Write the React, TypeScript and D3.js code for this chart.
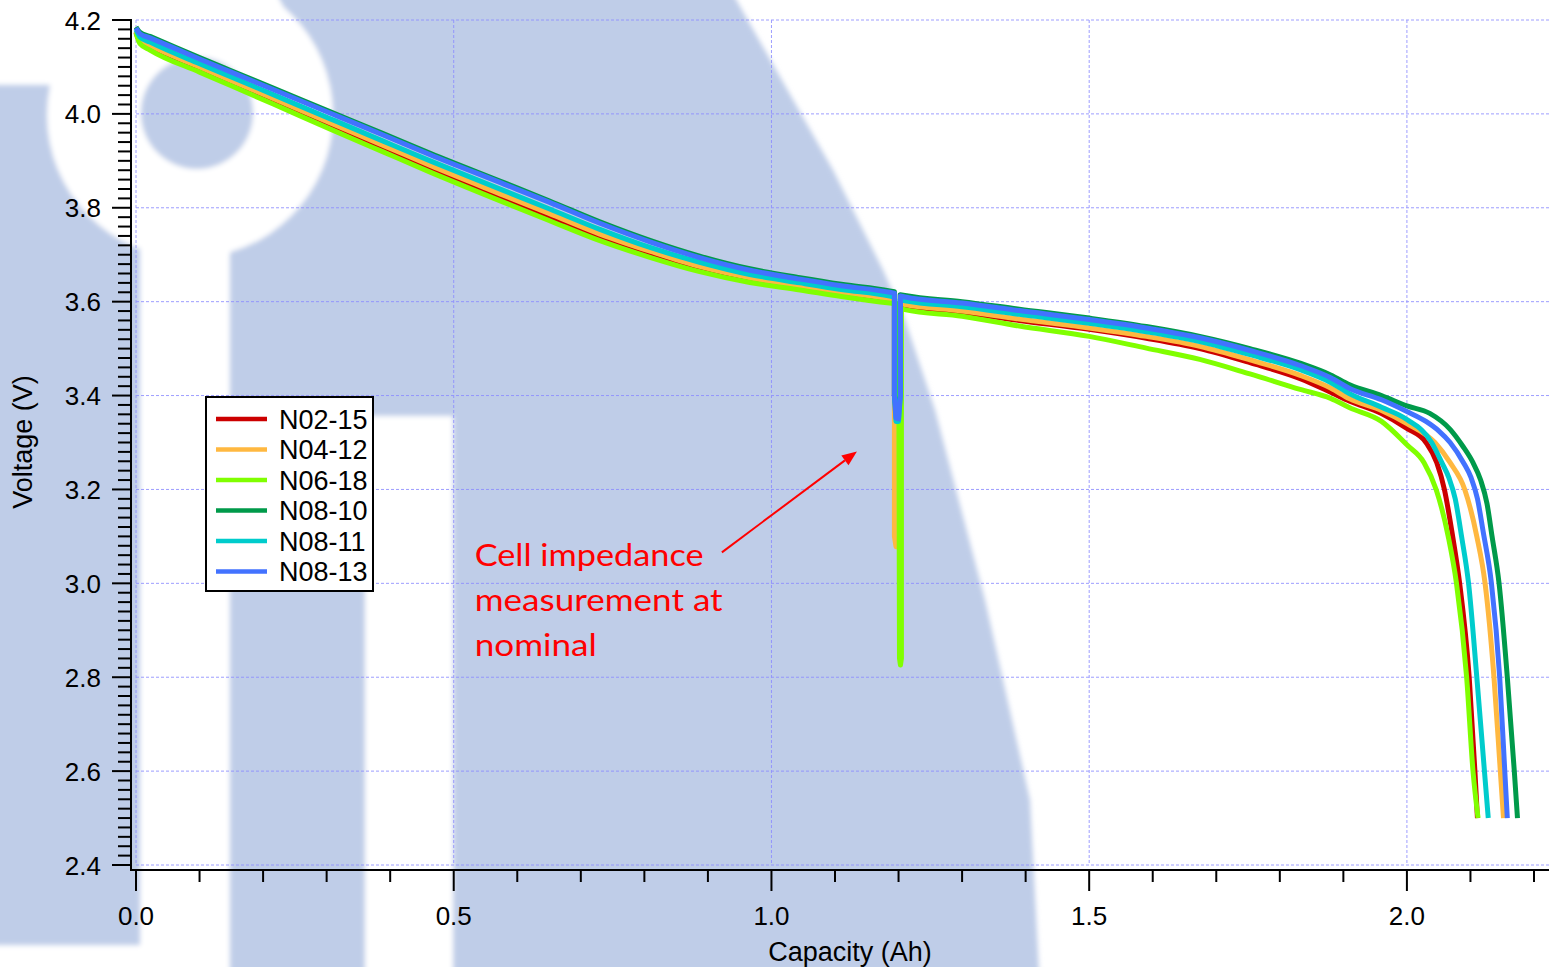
import React from "react";
import * as d3 from "d3";

const W = 1549;
const H = 967;

// series, in legend / drawing order
const seriesNames = ["N02-15", "N04-12", "N06-18", "N08-10", "N08-11", "N08-13"];
const seriesColors = ["#CC0000", "#FFB840", "#80FF00", "#009A4A", "#00CCCC", "#4272FF"];

// capacity (Ah), voltage (V)
const n0215 = [
  [0, 4.174], [0.006, 4.154], [0.022, 4.142], [0.1, 4.095], [0.148, 4.067], [0.216, 4.028],
  [0.305, 3.975], [0.389, 3.927], [0.463, 3.884], [0.58, 3.82], [0.65, 3.782], [0.73, 3.738],
  [0.81, 3.701], [0.887, 3.671], [0.966, 3.647], [1.045, 3.63], [1.11, 3.616], [1.186, 3.602],
  [1.1935, 3.6], [1.1935, 3.4], [1.196, 3.37], [1.2, 3.37], [1.2025, 3.4], [1.2025, 3.593],
  [1.21, 3.591], [1.3, 3.577], [1.39, 3.56], [1.5, 3.541], [1.59, 3.522], [1.674, 3.5],
  [1.753, 3.47], [1.832, 3.436], [1.88, 3.407], [1.91, 3.388], [1.96, 3.362], [2.0, 3.33],
  [2.03, 3.3], [2.047, 3.257], [2.059, 3.2], [2.072, 3.1], [2.083, 3.0], [2.098, 2.8],
  [2.107, 2.6], [2.111, 2.5],
];

const n0412 = [
  [0, 4.176], [0.006, 4.158], [0.022, 4.146], [0.1, 4.1], [0.148, 4.072], [0.216, 4.033],
  [0.305, 3.981], [0.389, 3.933], [0.463, 3.89], [0.58, 3.826], [0.65, 3.788], [0.73, 3.744],
  [0.81, 3.707], [0.887, 3.675], [0.966, 3.651], [1.045, 3.634], [1.11, 3.62], [1.186, 3.606],
  [1.1935, 3.604], [1.1935, 3.1], [1.196, 3.078], [1.2, 3.085], [1.2025, 3.1], [1.2025, 3.596],
  [1.21, 3.594], [1.3, 3.58], [1.39, 3.563], [1.5, 3.544], [1.59, 3.526], [1.674, 3.505],
  [1.753, 3.476], [1.832, 3.443], [1.88, 3.416], [1.91, 3.393], [1.96, 3.368], [2.0, 3.34],
  [2.044, 3.3], [2.068, 3.257], [2.091, 3.2], [2.11, 3.1], [2.123, 3.0], [2.137, 2.8],
  [2.147, 2.6], [2.152, 2.5],
];

const n0618 = [
  [0, 4.172], [0.006, 4.15], [0.022, 4.136], [0.1, 4.089], [0.148, 4.061], [0.216, 4.021],
  [0.305, 3.968], [0.389, 3.919], [0.463, 3.876], [0.58, 3.811], [0.65, 3.773], [0.73, 3.73],
  [0.81, 3.694], [0.887, 3.664], [0.966, 3.641], [1.045, 3.625], [1.11, 3.611], [1.186, 3.597],
  [1.1995, 3.595], [1.2005, 3.4], [1.2015, 2.84], [1.203, 2.826], [1.2045, 2.84], [1.2045, 3.585],
  [1.21, 3.583], [1.3, 3.569], [1.39, 3.548], [1.5, 3.526], [1.59, 3.501], [1.674, 3.477],
  [1.753, 3.446], [1.832, 3.413], [1.88, 3.394], [1.91, 3.374], [1.96, 3.345], [2.0, 3.295],
  [2.027, 3.257], [2.046, 3.2], [2.065, 3.1], [2.078, 3.0], [2.094, 2.8], [2.104, 2.6],
  [2.112, 2.5],
];

const n0810 = [
  [0, 4.185], [0.006, 4.174], [0.022, 4.165], [0.1, 4.12], [0.148, 4.093], [0.216, 4.055],
  [0.305, 4.005], [0.389, 3.958], [0.463, 3.916], [0.58, 3.853], [0.65, 3.815], [0.73, 3.77],
  [0.81, 3.73], [0.887, 3.697], [0.966, 3.67], [1.045, 3.651], [1.11, 3.637], [1.186, 3.623],
  [1.1935, 3.621], [1.1935, 3.4], [1.196, 3.37], [1.2, 3.37], [1.2025, 3.4], [1.2025, 3.615],
  [1.21, 3.613], [1.3, 3.6], [1.39, 3.584], [1.5, 3.565], [1.59, 3.547], [1.674, 3.526],
  [1.753, 3.5], [1.832, 3.469], [1.88, 3.444], [1.91, 3.423], [1.96, 3.4], [2.0, 3.378],
  [2.036, 3.362], [2.068, 3.328], [2.088, 3.292], [2.104, 3.257], [2.116, 3.22], [2.126, 3.17],
  [2.134, 3.1], [2.145, 3.0], [2.158, 2.8], [2.169, 2.6], [2.174, 2.5],
];

const n0811 = [
  [0, 4.179], [0.006, 4.164], [0.022, 4.153], [0.1, 4.107], [0.148, 4.08], [0.216, 4.041],
  [0.305, 3.99], [0.389, 3.942], [0.463, 3.9], [0.58, 3.836], [0.65, 3.798], [0.73, 3.754],
  [0.81, 3.715], [0.887, 3.684], [0.966, 3.658], [1.045, 3.64], [1.11, 3.626], [1.186, 3.612],
  [1.1935, 3.61], [1.1935, 3.4], [1.196, 3.345], [1.2, 3.345], [1.2025, 3.4], [1.2025, 3.604],
  [1.21, 3.602], [1.3, 3.589], [1.39, 3.573], [1.5, 3.554], [1.59, 3.536], [1.674, 3.515],
  [1.753, 3.487], [1.832, 3.455], [1.88, 3.428], [1.91, 3.404], [1.96, 3.375], [2.0, 3.349],
  [2.039, 3.3], [2.055, 3.257], [2.066, 3.225], [2.076, 3.18], [2.086, 3.1], [2.097, 3.0],
  [2.11, 2.8], [2.122, 2.6], [2.128, 2.5],
];

const n0813 = [
  [0, 4.183], [0.006, 4.171], [0.022, 4.162], [0.1, 4.117], [0.148, 4.09], [0.216, 4.052],
  [0.305, 4.002], [0.389, 3.955], [0.463, 3.913], [0.58, 3.85], [0.65, 3.812], [0.73, 3.767],
  [0.81, 3.727], [0.887, 3.694], [0.966, 3.667], [1.045, 3.648], [1.11, 3.634], [1.186, 3.62],
  [1.1935, 3.618], [1.1935, 3.4], [1.196, 3.352], [1.2, 3.35], [1.203, 3.4], [1.203, 3.612],
  [1.21, 3.61], [1.3, 3.597], [1.39, 3.581], [1.5, 3.562], [1.59, 3.544], [1.674, 3.523],
  [1.753, 3.496], [1.832, 3.464], [1.88, 3.438], [1.91, 3.415], [1.96, 3.391], [2.0, 3.366],
  [2.03, 3.345], [2.05, 3.325], [2.068, 3.3], [2.089, 3.257], [2.101, 3.225], [2.111, 3.18],
  [2.12, 3.11], [2.133, 3.0], [2.146, 2.8], [2.154, 2.6], [2.158, 2.5],
];

const seriesData = [n0215, n0412, n0618, n0810, n0811, n0813];

// capacity window of the impedance pulse (drawn straight, no smoothing)
const pulseWindow = [1.19, 1.206];

const xMajor = [0, 0.5, 1.0, 1.5, 2.0];
const xLabels = ["0.0", "0.5", "1.0", "1.5", "2.0"];
const yMajor = [2.4, 2.6, 2.8, 3.0, 3.2, 3.4, 3.6, 3.8, 4.0, 4.2];
const yLabels = ["2.4", "2.6", "2.8", "3.0", "3.2", "3.4", "3.6", "3.8", "4.0", "4.2"];

const noteLines = ["Cell impedance", "measurement at", "nominal"];
const noteWidths = [229, 248, 122];
// annotation anchor + arrow in data units
const noteAt = [0.533, 3.036];
const arrowFrom = [0.922, 3.066];
const arrowTo = [1.1345, 3.281];

const font = "'Liberation Sans', Arial, sans-serif";
const bgBlue = "#BFCDE8";
const gridColor = "#8C8CFF";

export default function App() {
  const x = d3.scaleLinear().domain([0, 2.2236]).range([136, W]);
  const y = d3.scaleLinear().domain([2.4, 4.2]).range([865, 20]);

  const smooth = d3
    .line<number[]>()
    .x((d) => x(d[0]))
    .y((d) => y(d[1]))
    .curve(d3.curveMonotoneX);
  const straight = d3
    .line<number[]>()
    .x((d) => x(d[0]))
    .y((d) => y(d[1]));

  const seriesPath = (d: number[][]) => {
    const pre = d.filter((p) => p[0] < pulseWindow[0]);
    const dip = d.filter((p) => p[0] >= pulseWindow[0] && p[0] <= pulseWindow[1]);
    const post = d.filter((p) => p[0] > pulseWindow[1]);
    const a = smooth([...pre, dip[0]]) || "";
    const b = (straight(dip) || "").replace(/^M/, "L");
    const c = (smooth([dip[dip.length - 1], ...post]) || "").replace(/^M/, "L");
    return a + b + c;
  };

  const xMinor = d3.range(0, 2.2001, 0.1).filter((v) => Math.abs(v / 0.5 - Math.round(v / 0.5)) > 1e-6);
  const yMinor = d3.range(2.4, 4.2001, 0.02).filter((v) => Math.abs(v / 0.2 - Math.round(v / 0.2)) > 1e-6);

  const axisX = 131;
  const axisY = 870;

  // arrow geometry
  const ax0 = x(arrowFrom[0]), ay0 = y(arrowFrom[1]);
  const ax1 = x(arrowTo[0]), ay1 = y(arrowTo[1]);
  const ang = Math.atan2(ay1 - ay0, ax1 - ax0);
  const hl = 15, hw = 6;
  const bx = ax1 - hl * Math.cos(ang), by = ay1 - hl * Math.sin(ang);
  const head = [
    [ax1, ay1],
    [bx + hw * Math.sin(ang), by - hw * Math.cos(ang)],
    [bx - hw * Math.sin(ang), by + hw * Math.cos(ang)],
  ];

  const legX = 206, legY = 397, legW = 167, legH = 194;
  const rowGap = 30.5;

  return (
    <svg
      width={W}
      height={H}
      style={{ position: "absolute", left: 0, top: 0, background: "#fff" }}
    >
      <defs>
        <filter id="soft" x="-5%" y="-5%" width="110%" height="110%">
          <feGaussianBlur stdDeviation="2.5" />
        </filter>
      </defs>

      {/* watermark background */}
      <g filter="url(#soft)">
        <rect x={-20} y={85} width={160} height={860} fill={bgBlue} />
        <polygon
          points="270,-20 725,-20 833,170 883,270 905,320 935,410 985,600 1030,800 1040,990 230,990 230,230 330,100"
          fill={bgBlue}
        />
        <circle cx={190} cy={115} r={143} fill="#fff" />
        <rect x={145} y={200} width={77} height={790} fill="#fff" />
        <rect x={365} y={416} width={88} height={570} fill="#fff" />
        <circle cx={197} cy={113} r={56} fill={bgBlue} />
      </g>

      {/* grid */}
      <g stroke={gridColor} strokeWidth={1} strokeDasharray="3,2" opacity={0.85}>
        {xMajor.map((v) => (
          <line key={"gx" + v} x1={x(v)} x2={x(v)} y1={y(4.2)} y2={y(2.4)} />
        ))}
        {yMajor.map((v) => (
          <line key={"gy" + v} x1={x(0)} x2={W} y1={y(v)} y2={y(v)} />
        ))}
      </g>

      {/* axes */}
      <g stroke="#000" strokeWidth={2}>
        <line x1={axisX} x2={axisX} y1={y(4.2) - 1} y2={axisY + 1} />
        <line x1={axisX - 1} x2={W} y1={axisY} y2={axisY} />
        {yMajor.map((v) => (
          <line key={"ty" + v} x1={axisX - 19} x2={axisX} y1={y(v)} y2={y(v)} />
        ))}
        {yMinor.map((v) => (
          <line key={"tyn" + v} x1={axisX - 13} x2={axisX} y1={y(v)} y2={y(v)} />
        ))}
        {xMajor.map((v) => (
          <line key={"tx" + v} x1={x(v)} x2={x(v)} y1={axisY} y2={axisY + 21} />
        ))}
        {xMinor.map((v) => (
          <line key={"txn" + v} x1={x(v)} x2={x(v)} y1={axisY} y2={axisY + 12} />
        ))}
      </g>
      <g fontFamily={font} fill="#000">
        {yMajor.map((v, i) => (
          <text key={"ly" + v} x={101} y={y(v) + 9.5} textAnchor="end" fontSize={26}>
            {yLabels[i]}
          </text>
        ))}
        {xMajor.map((v, i) => (
          <text key={"lx" + v} x={x(v)} y={925} textAnchor="middle" fontSize={26}>
            {xLabels[i]}
          </text>
        ))}
        <text x={850} y={961} textAnchor="middle" fontSize={27}>
          Capacity (Ah)
        </text>
        <text transform={`translate(32,442) rotate(-90)`} textAnchor="middle" fontSize={27}>
          Voltage (V)
        </text>
      </g>

      {/* curves */}
      <g fill="none" strokeWidth={5} strokeLinejoin="round" strokeLinecap="butt">
        {seriesData.map((d, i) => (
          <path key={seriesNames[i]} d={seriesPath(d as number[][])} stroke={seriesColors[i]} />
        ))}
      </g>

      {/* legend */}
      <g>
        <rect x={legX} y={legY} width={legW} height={legH} fill="#fff" stroke="#000" strokeWidth={2} />
        {seriesNames.map((n, i) => (
          <g key={"lg" + n}>
            <line
              x1={legX + 10}
              x2={legX + 61}
              y1={legY + 22 + i * rowGap}
              y2={legY + 22 + i * rowGap}
              stroke={seriesColors[i]}
              strokeWidth={4.5}
            />
            <text x={legX + 73} y={legY + 31.5 + i * rowGap} fontFamily={font} fontSize={27} fill="#000">
              {n}
            </text>
          </g>
        ))}
      </g>

      {/* annotation */}
      <g fill="#FF0000" fontFamily="Lato, 'Open Sans', sans-serif" fontSize={31}>
        {noteLines.map((t, i) => (
          <text
            key={t}
            x={x(noteAt[0])}
            y={y(noteAt[1]) + i * 45}
            textLength={noteWidths[i]}
            lengthAdjust="spacingAndGlyphs"
          >
            {t}
          </text>
        ))}
      </g>
      <line x1={ax0} y1={ay0} x2={bx} y2={by} stroke="#FF0000" strokeWidth={2} />
      <polygon points={head.map((p) => p.join(",")).join(" ")} fill="#FF0000" />
    </svg>
  );
}
